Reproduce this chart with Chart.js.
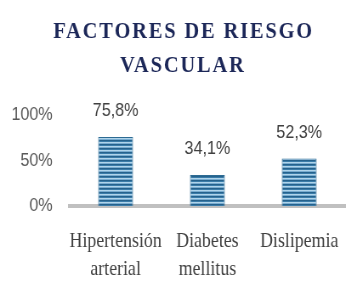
<!DOCTYPE html>
<html><head><meta charset="utf-8">
<style>
html,body{margin:0;padding:0;background:#fff;overflow:hidden;}
#wrap{width:414px;height:304px;transform:scaleX(0.85);transform-origin:0 0;}
canvas{display:block;}
</style>
<script src="https://cdn.jsdelivr.net/npm/chart.js@4"></script>
</head><body><div id="wrap"><canvas id="c" width="414" height="304"></canvas></div>
<script>
const titleLines = ['FACTORES DE RIESGO', 'VASCULAR'];
const categories = [['Hipertensión', 'arterial'], ['Diabetes', 'mellitus'], ['Dislipemia']];
const values = [75.8, 34.1, 52.3];
const valueLabels = ['75,8%', '34,1%', '52,3%'];
const yTicks = [0, 50, 100];

// striped fill
const pc = document.createElement('canvas');
pc.width = 4; pc.height = 4;
const px = pc.getContext('2d');
const rows = ['#26628c', '#3a7ca9', '#b0d4ea', '#78acd0'];
rows.forEach((c, i) => { px.fillStyle = c; px.fillRect(0, i, 4, 1); });
const ctx = document.getElementById('c').getContext('2d');
const stripes = ctx.createPattern(pc, 'repeat');

const decor = {
  id: 'decor',
  afterDatasetsDraw(chart) {
    const c = chart.ctx;
    const meta = chart.getDatasetMeta(0);
    c.save();
    c.font = '19px "Liberation Sans", Arial, sans-serif';
    c.fillStyle = '#404040';
    c.textAlign = 'center';
    c.textBaseline = 'middle';
    meta.data.forEach((bar, i) => c.fillText(valueLabels[i], bar.x, bar.y - 26));
    c.restore();
  },
  afterDraw(chart) {
    const c = chart.ctx;
    c.save();
    c.font = 'bold 24px "Liberation Serif", "Times New Roman", serif';
    c.fillStyle = '#1c2758';
    c.textAlign = 'center';
    c.textBaseline = 'alphabetic';
    const ls = 2.2;
    c.letterSpacing = ls + 'px';
    c.fillText(titleLines[0], 215 + ls / 2, 38);
    c.fillText(titleLines[1], 214 + ls / 2, 72);
    c.restore();
  }
};

new Chart(ctx, {
  type: 'bar',
  data: {
    labels: categories,
    datasets: [{
      data: values,
      backgroundColor: stripes,
      borderColor: '#2d6b93',
      borderWidth: 1,
      barPercentage: 0.38,
      categoryPercentage: 1
    }]
  },
  options: {
    responsive: false,
    animation: false,
    devicePixelRatio: 1,
    layout: { padding: { top: 115, right: 8, left: 0, bottom: 0 } },
    plugins: { legend: { display: false }, tooltip: { enabled: false }, title: { display: false } },
    scales: {
      x: {
        grid: { display: false },
        border: { display: true, color: '#c0c0c0', width: 4 },
        ticks: {
          color: '#404040',
          padding: 14,
          maxRotation: 0,
          autoSkip: false,
          font: { family: '"Liberation Serif", "Times New Roman", serif', size: 21, lineHeight: 1.33 }
        },
        afterFit(s) { s.height = 98; }
      },
      y: {
        min: 0, max: 100,
        afterBuildTicks(s) { s.ticks = yTicks.map(v => ({ value: v })); },
        grid: { display: false },
        border: { display: false },
        ticks: {
          color: '#595959',
          padding: 12,
          font: { family: '"Liberation Sans", Arial, sans-serif', size: 19 },
          callback: v => v + '%'
        },
        afterFit(s) { s.width = 82; }
      }
    }
  },
  plugins: [decor]
});
</script>
</body></html>
